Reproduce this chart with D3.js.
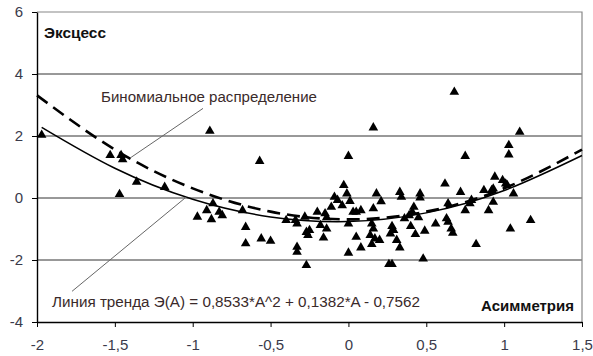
<!DOCTYPE html>
<html>
<head>
<meta charset="utf-8">
<script src="https://cdn.jsdelivr.net/npm/d3@7"></script>
<style>
  body { margin: 0; background: #fff; }
  svg { display: block; font-family: Arial, "Liberation Sans", sans-serif; }
</style>
</head>
<body>
<svg id="chart"></svg>
<script>
// scatter: skewness (A) vs excess kurtosis (E)
const pointsX = [
	-1.97, -1.53, -1.46, -1.45, -1.36, -1.47, -1.18, -0.97, -0.89, -0.57,
	-0.87, -0.91, -0.88, -0.83, -0.81, -0.68, -0.66, -0.66, -0.56, -0.50,
	-0.40, -0.34, -0.33, -0.28, -0.33, -0.33, -0.27, -0.27, -0.26,
	0.00, -0.03, -0.01, 0.01, -0.04, -0.09, -0.07, -0.11, 0.18, 0.21,
	0.33, 0.34, 0.16, 0.08, 0.05, 0.03, -0.20, -0.15, -0.14, -0.18,
	-0.14, -0.25, -0.16, 0.00, 0.05, 0.08, 0.00, 0.15, 0.16, 0.14,
	0.17, 0.20, 0.15, 0.28, 0.29, 0.27, 0.31, 0.33, 0.36, 0.39,
	0.26, 0.28, 0.16,
	0.75, 0.62, 0.72, 0.46, 0.46, 0.42, 0.41, 0.45, 0.64, 0.75,
	0.63, 0.64, 0.56, 0.66, 0.67, 0.40, 0.43, 0.49, 0.82, 0.48,
	0.87, 0.92, 0.94, 0.90, 0.93, 0.79, 0.78, 0.68, 1.10, 1.03,
	1.03, 0.99, 1.01, 1.02, 0.93, 1.06, 1.17, 1.04
];
const pointsY = [
	2.03, 1.38, 1.38, 1.24, 0.52, 0.12, 0.35, -0.61, 2.16, 1.19,
	-0.18, -0.40, -0.69, -0.45, -0.56, -0.40, -0.94, -1.47, -1.31, -1.39,
	-0.72, -0.72, -0.83, -0.61, -1.58, -1.74, -2.17, -1.10, -1.20,
	1.35, 0.41, 0.14, -0.10, -0.24, 0.03, -0.07, -0.29, 0.14, -0.11,
	0.19, 0.03, -0.34, -0.40, -0.45, -0.45, -0.45, -0.50, -0.63, -0.88,
	-0.99, -1.04, -1.28, -0.83, -1.26, -1.60, -1.77, -0.83, -0.99, -1.20,
	-1.31, -1.36, -1.49, -0.91, -1.04, -1.15, -1.36, -1.60, -0.66, -0.56,
	-2.14, -2.14, 2.27,
	1.35, 0.46, 0.19, 0.14, 0.01, -0.29, -0.45, -0.63, -0.18, -0.40,
	-0.66, -0.77, -0.83, -0.99, -1.13, -0.91, -1.17, -1.06, -1.49, -1.96,
	0.25, 0.25, 0.68, -0.40, -0.13, -0.07, -0.18, 3.42, 2.13, 1.70,
	1.40, 0.57, 0.46, 0.41, 0.30, 0.14, -0.72, -0.99
];

// binomial distribution curve (dashed)
const binomX = [-2, -1.5, -1, -0.5, 0, 0.5, 1, 1.5];
const binomY = [3.31, 1.56, 0.31, -0.44, -0.69, -0.44, 0.31, 1.56];

// trend line (solid)
const trendX = [-1.97, -1.5, -1, -0.5, 0, 0.5, 1, 1.5];
const trendY = [2.28, 0.96, -0.04, -0.61, -0.76, -0.48, 0.24, 1.37];

const xTicks = [-2, -1.5, -1, -0.5, 0, 0.5, 1, 1.5];
const yTicks = [-4, -2, 0, 2, 4, 6];

const width = 593;
const height = 356;
const margin = { top: 12, right: 11, bottom: 34, left: 37 };
const fmt = d => String(d).replace(".", ",");

const svg = d3.select("#chart")
	.attr("width", width)
	.attr("height", height);

const xScale = d3.scaleLinear().domain([-2, 1.5]).range([margin.left, width - margin.right]);
const yScale = d3.scaleLinear().domain([-4, 6]).range([height - margin.bottom, margin.top]);

// grid lines
svg.append("g")
	.selectAll("line")
	.data(yTicks.filter(d => d > -4 && d < 6))
	.join("line")
	.attr("x1", xScale(-2))
	.attr("x2", xScale(1.5))
	.attr("y1", d => yScale(d))
	.attr("y2", d => yScale(d))
	.attr("stroke", "#333")
	.attr("stroke-width", 1);

// top and right border
svg.append("path")
	.attr("d", `M${xScale(-2)},${yScale(6)}H${xScale(1.5)}V${yScale(-4)}`)
	.attr("fill", "none")
	.attr("stroke", "#888")
	.attr("stroke-width", 1.2);

// axes
const xAxis = d3.axisBottom(xScale).tickValues(xTicks).tickFormat(fmt).tickSize(5).tickSizeOuter(0);
const yAxis = d3.axisLeft(yScale).tickValues(yTicks).tickFormat(fmt).tickSize(5).tickSizeOuter(0);

svg.append("g")
	.attr("class", "x-axis")
	.attr("transform", `translate(0, ${yScale(-4)})`)
	.call(xAxis);

svg.append("g")
	.attr("class", "y-axis")
	.attr("transform", `translate(${xScale(-2)}, 0)`)
	.call(yAxis);

svg.selectAll(".x-axis path, .y-axis path").attr("stroke", "#000").attr("stroke-width", 1.4);
svg.selectAll(".x-axis line, .y-axis line").attr("stroke", "#000");
svg.selectAll(".x-axis text, .y-axis text")
	.attr("fill", "#3a3a4a")
	.style("font-size", "15px")
	.style("font-family", "Arial, 'Liberation Sans', sans-serif");
svg.selectAll(".x-axis text").attr("y", 28).attr("dy", 0);
svg.selectAll(".y-axis text").attr("x", -14);

// curves
const curveLine = d3.line()
	.x(d => xScale(d[0]))
	.y(d => yScale(d[1]))
	.curve(d3.curveNatural);

svg.append("path")
	.datum(binomX.map((x, i) => [x, binomY[i]]))
	.attr("d", curveLine)
	.attr("fill", "none")
	.attr("stroke", "#000")
	.attr("stroke-width", 2.6)
	.attr("stroke-dasharray", "13,7");

svg.append("path")
	.datum(trendX.map((x, i) => [x, trendY[i]]))
	.attr("d", curveLine)
	.attr("fill", "none")
	.attr("stroke", "#000")
	.attr("stroke-width", 1.5);

// points
const tri = d3.symbol().type(d3.symbolTriangle).size(40);
svg.append("g")
	.selectAll("path")
	.data(pointsX.map((x, i) => [x, pointsY[i]]))
	.join("path")
	.attr("transform", d => `translate(${xScale(d[0])},${yScale(d[1])})`)
	.attr("d", tri)
	.attr("fill", "#000");

// leader lines
svg.append("line")
	.attr("x1", xScale(-0.934)).attr("y1", yScale(2.89))
	.attr("x2", xScale(-1.396)).attr("y2", yScale(1.31))
	.attr("stroke", "#666").attr("stroke-width", 1);

svg.append("line")
	.attr("x1", xScale(-1.775)).attr("y1", yScale(-3.01))
	.attr("x2", xScale(-1.037)).attr("y2", yScale(0.05))
	.attr("stroke", "#666").attr("stroke-width", 1);

// labels
svg.append("text")
	.attr("x", 44).attr("y", 38)
	.attr("font-size", 14.5).attr("font-weight", "bold").attr("fill", "#111")
	.attr("textLength", 62).attr("lengthAdjust", "spacingAndGlyphs")
	.text("Эксцесс");

svg.append("text")
	.attr("x", 481).attr("y", 311)
	.attr("font-size", 14.5).attr("font-weight", "bold").attr("fill", "#111")
	.attr("textLength", 93).attr("lengthAdjust", "spacingAndGlyphs")
	.text("Асимметрия");

svg.append("text")
	.attr("x", 101).attr("y", 102)
	.attr("font-size", 14).attr("fill", "#3a2a2a")
	.attr("textLength", 216).attr("lengthAdjust", "spacingAndGlyphs")
	.text("Биномиальное распределение");

svg.append("text")
	.attr("x", 52).attr("y", 307)
	.attr("font-size", 14).attr("fill", "#3a2a2a")
	.attr("textLength", 368).attr("lengthAdjust", "spacingAndGlyphs")
	.text("Линия тренда Э(А) = 0,8533*A^2 + 0,1382*A - 0,7562");
</script>
</body>
</html>
